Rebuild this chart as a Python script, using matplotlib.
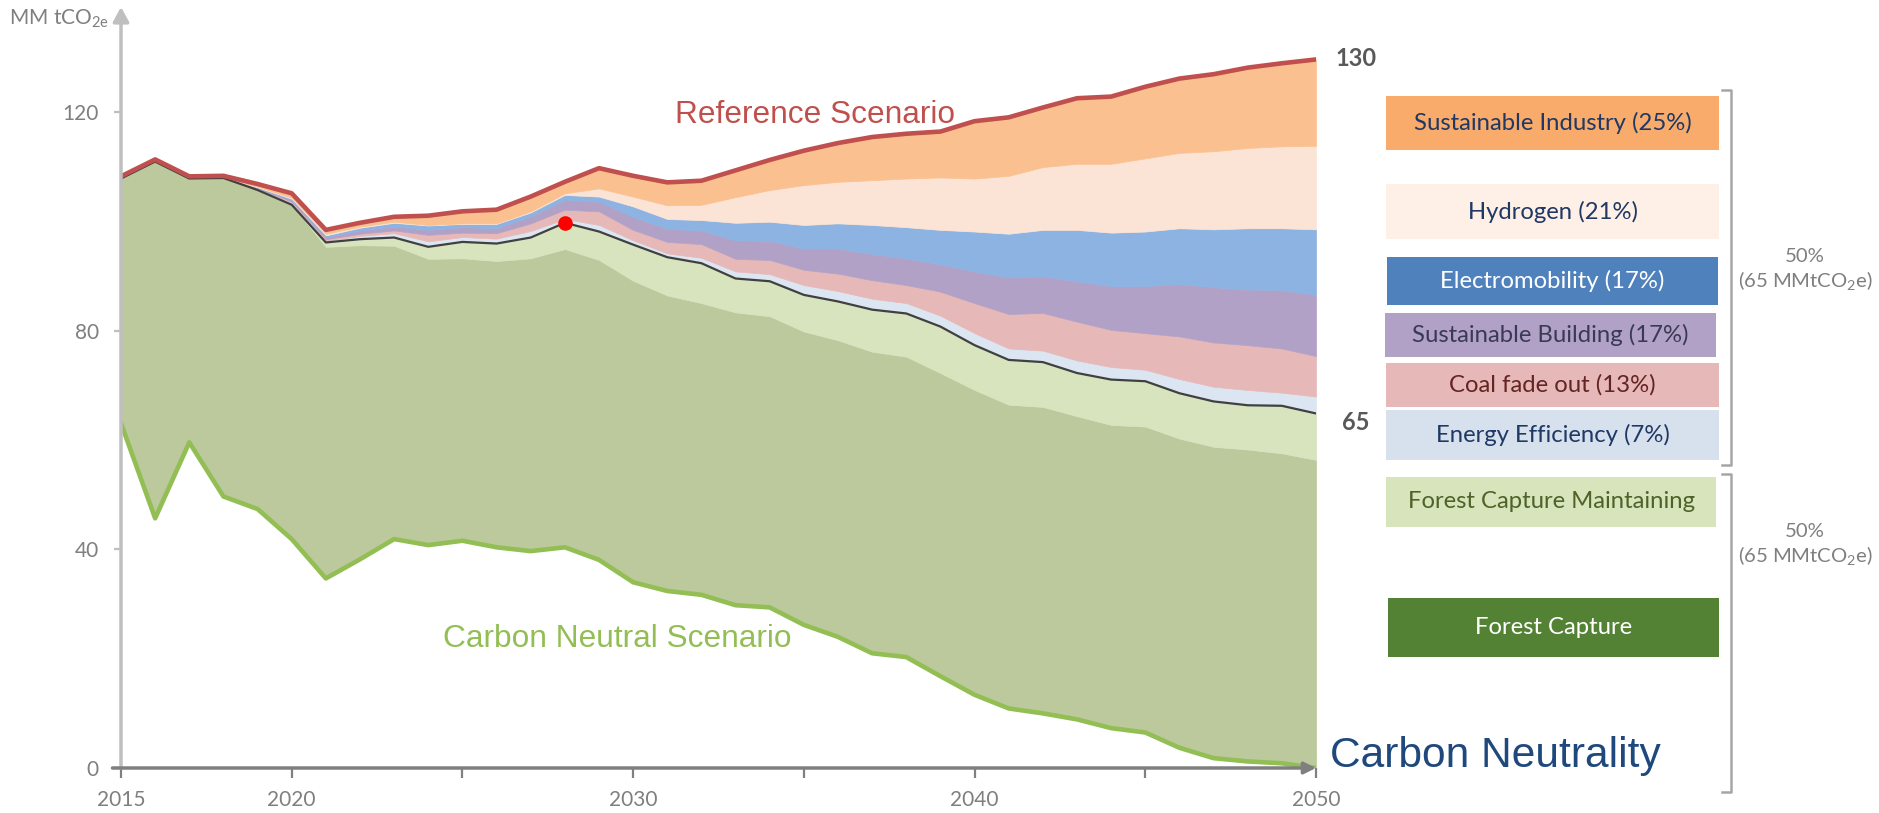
import numpy as np
import matplotlib
matplotlib.use("Agg")
import matplotlib.pyplot as plt
from matplotlib.patches import Rectangle
from matplotlib.lines import Line2D

plt.rcParams['mathtext.fontset'] = 'custom'
plt.rcParams['mathtext.rm'] = 'Lato'
plt.rcParams['mathtext.it'] = 'Lato:italic'
plt.rcParams['mathtext.bf'] = 'Lato:bold'

# ---------------- data (MM tCO2e) ----------------
years = np.arange(2015, 2051)

reference = [108.3, 111.4, 108.3, 108.4, 106.9, 105.2, 98.5, 99.8, 100.9, 101.1,
             101.9, 102.2, 104.6, 107.3, 109.8, 108.4, 107.2, 107.5, 109.4, 111.3,
             113.0, 114.4, 115.5, 116.1, 116.5, 118.4, 119.1, 120.9, 122.6, 122.9,
             124.7, 126.2, 127.0, 128.2, 129.0, 129.7]

# upper boundary of each mitigation wedge (stacked top-down)
top_hydrogen = [108.0, 111.1, 108.0, 108.1, 106.4, 104.4, 97.8, 99.1, 100.0, 99.4,
                99.7, 99.7, 101.9, 105.2, 106.1, 104.6, 103.0, 103.1, 104.5, 105.8,
                106.7, 107.3, 107.6, 107.9, 108.1, 107.9, 108.4, 110.0, 110.6, 110.6,
                111.6, 112.6, 112.9, 113.5, 113.8, 113.9]
top_emob = [108.0, 111.1, 108.0, 108.1, 106.3, 104.2, 97.5, 98.9, 99.8, 99.3,
            99.6, 99.6, 101.7, 104.9, 104.6, 102.8, 100.5, 100.3, 99.8, 100.0,
            99.4, 99.7, 99.4, 99.0, 98.5, 98.2, 97.8, 98.5, 98.5, 98.0,
            98.2, 98.8, 98.6, 98.8, 98.8, 98.6]
top_building = [108.0, 111.1, 108.0, 108.1, 106.2, 104.0, 97.2, 98.4, 99.1, 98.5,
                99.0, 98.8, 101.0, 104.0, 103.7, 100.9, 98.7, 98.4, 96.6, 96.5,
                95.1, 95.1, 94.1, 93.3, 92.2, 90.9, 89.8, 90.0, 89.1, 88.2,
                88.2, 88.6, 88.0, 87.6, 87.5, 86.6]
top_coal = [108.0, 111.1, 108.0, 108.1, 106.1, 103.7, 96.8, 97.8, 98.4, 97.6,
            98.0, 97.9, 99.7, 102.2, 101.9, 98.5, 96.3, 95.9, 93.2, 93.0,
            91.2, 90.5, 89.3, 88.4, 87.2, 85.1, 83.1, 83.3, 81.7, 80.2,
            79.6, 79.0, 77.9, 77.4, 76.8, 75.4]
top_ee = [108.0, 111.1, 108.0, 108.1, 106.0, 103.4, 96.5, 97.4, 97.9, 96.4,
          97.2, 96.9, 98.3, 100.5, 99.4, 96.6, 94.2, 93.4, 90.9, 90.4,
          88.4, 87.3, 85.9, 85.1, 82.8, 79.6, 76.8, 76.4, 74.6, 73.4,
          72.9, 71.2, 69.8, 69.2, 68.7, 68.0]
with_measures = [107.9, 111.0, 107.9, 108.0, 105.8, 103.1, 96.2, 96.8, 97.1, 95.4,
                 96.3, 96.0, 97.1, 99.8, 98.2, 95.8, 93.5, 92.4, 89.6, 89.1,
                 86.6, 85.4, 83.9, 83.2, 80.8, 77.4, 74.7, 74.3, 72.3, 71.1,
                 70.8, 68.6, 67.1, 66.4, 66.3, 64.9]
forest_maint_bottom = [107.9, 111.0, 107.9, 108.0, 105.8, 103.1, 95.4, 95.7, 95.6, 93.2,
                       93.3, 92.8, 93.3, 95.0, 93.0, 89.2, 86.5, 85.1, 83.4, 82.7,
                       79.9, 78.3, 76.2, 75.3, 72.3, 69.2, 66.5, 66.1, 64.4, 62.8,
                       62.5, 60.3, 58.8, 58.3, 57.6, 56.4]
carbon_neutral = [63.1, 45.7, 59.6, 49.7, 47.4, 41.9, 34.7, 38.2, 41.9, 40.8,
                  41.6, 40.4, 39.7, 40.4, 38.1, 34.0, 32.4, 31.7, 29.8, 29.4,
                  26.2, 24.0, 21.0, 20.3, 16.8, 13.4, 10.9, 10.0, 8.9, 7.3,
                  6.5, 3.7, 1.8, 1.2, 0.86, 0.0]
highlight_year = 2028

x_ticks = [2015, 2020, 2025, 2030, 2035, 2040, 2045, 2050]
x_tick_labels = ['2015', '2020', '', '2030', '', '2040', '', '2050']
y_ticks = [0, 40, 80, 120]

legend_labels = ['Sustainable Industry (25%)', 'Hydrogen (21%)', 'Electromobility (17%)',
                 'Sustainable Building (17%)', 'Coal fade out (13%)', 'Energy Efficiency (7%)',
                 'Forest Capture Maintaining', 'Forest Capture']
share_label = '50%\n(65 MMtCO$_{\\mathrm{2}}$e)'

# ---------------- figure ----------------
W, H = 1879, 813
fig = plt.figure(figsize=(W / 100, H / 100), dpi=100)
fig.patch.set_facecolor('white')


def fx(px):
    return px / W


def fy(py):
    return 1 - py / H


ax = fig.add_axes([fx(121), 45 / H, 1195 / W, 761 / H])
ax.set_xlim(2015, 2050)
ax.set_ylim(0, 139.3)
for s in ax.spines.values():
    s.set_visible(False)

layers = [
    (carbon_neutral, forest_maint_bottom, '#BCC99C'),
    (forest_maint_bottom, with_measures, '#D8E4BE'),
    (with_measures, top_ee, '#DCE6F2'),
    (top_ee, top_coal, '#E6B8B7'),
    (top_coal, top_building, '#B2A1C7'),
    (top_building, top_emob, '#8DB3E2'),
    (top_emob, top_hydrogen, '#FBE4D6'),
    (top_hydrogen, reference, '#FAC090'),
]
for lo, hi, c in layers:
    ax.fill_between(years, lo, hi, facecolor=c, edgecolor=c, linewidth=0.5, zorder=1)

ax.plot(years, with_measures, color='#404040', lw=1.6, zorder=3)
ax.plot(years, reference, color='#C0504D', lw=3.3, zorder=4, solid_joinstyle='round')
ax.plot(years, carbon_neutral, color='#92BE54', lw=3.3, zorder=4, solid_joinstyle='round')
hi_idx = list(years).index(highlight_year)
ax.plot([highlight_year], [with_measures[hi_idx]], 'o', color='#FF0000', ms=9.5, zorder=5)

# axes lines with arrows
ax.annotate('', xy=(2015, 139.3), xytext=(2015, 0), xycoords='data',
            arrowprops=dict(arrowstyle='-|>,head_length=0.55,head_width=0.3', mutation_scale=16,
                            color='#BFBFBF', lw=2.5, shrinkA=0, shrinkB=0),
            annotation_clip=False, zorder=6)
ax.annotate('', xy=(2050, 0), xytext=(2014.75, 0), xycoords='data',
            arrowprops=dict(arrowstyle='-|>,head_length=0.5,head_width=0.25', mutation_scale=14,
                            color='#7F7F7F', lw=2.5, shrinkA=0, shrinkB=0),
            annotation_clip=False, zorder=6)

ax.set_xticks(x_ticks)
ax.set_xticklabels(x_tick_labels)
ax.set_yticks(y_ticks)
ax.tick_params(axis='x', length=7, width=1.6, color='#808080', labelsize=15,
               labelcolor='#7F7F7F', pad=9)
ax.tick_params(axis='y', length=5, width=1.6, color='#BFBFBF', labelsize=15,
               labelcolor='#7F7F7F', pad=11)
for lab in ax.get_xticklabels() + ax.get_yticklabels():
    lab.set_family('Lato')

# ---------------- annotations ----------------
fig.text(fx(9), fy(8), 'MM tCO$_{\\mathrm{2e}}$', fontsize=15, color='#7F7F7F',
         family='Lato', ha='left', va='top')
fig.text(fx(675), fy(123), 'Reference Scenario', fontsize=22.8, color='#C0504D',
         family='Liberation Sans', ha='left', va='baseline')
fig.text(fx(443), fy(647), 'Carbon Neutral Scenario', fontsize=22.8, color='#92BE54',
         family='Liberation Sans', ha='left', va='baseline')
fig.text(fx(1330), fy(767), 'Carbon Neutrality', fontsize=30.6, color='#1F497D',
         family='Liberation Sans', ha='left', va='baseline')
fig.text(fx(1356), fy(59), f'{reference[-1]:.0f}', fontsize=17, color='#595959',
         family='Lato', weight='bold', ha='center', va='center')
fig.text(fx(1356), fy(422), f'{with_measures[-1]:.0f}', fontsize=17, color='#595959',
         family='Lato', weight='bold', ha='center', va='center')

# legend boxes (x0, x1, y0, y1 in pixels)
box_geom = [(1386, 1719, 96, 150), (1386, 1719, 184, 239), (1387, 1718, 257, 305),
            (1385, 1716, 313, 357), (1386, 1719, 363, 407), (1386, 1719, 410, 460),
            (1386, 1716, 477, 527), (1388, 1719, 598, 657)]
box_face = ['#F8AB6A', '#FEF0E7', '#4F81BD', '#B2A1C7', '#E6B8B7', '#D7E1EE',
            '#D8E4BC', '#548235']
box_text = ['#1F3864', '#1F3864', '#FFFFFF', '#3A3A55', '#632523', '#1F3864',
            '#4F6228', '#FFFFFF']
for (x0, x1, y0, y1), lab, fc, tc in zip(box_geom, legend_labels, box_face, box_text):
    fig.add_artist(Rectangle((fx(x0), fy(y1)), (x1 - x0) / W, (y1 - y0) / H,
                             transform=fig.transFigure, facecolor=fc, edgecolor='none'))
    fig.text(fx((x0 + x1) / 2), fy((y0 + y1) / 2), lab, fontsize=17.2, color=tc,
             family='Lato', ha='center', va='center')

# brackets
bc = '#A6A6A6'
for ytop, ybot in [(90, 465), (474, 792)]:
    pts_x = [fx(1722), fx(1731), fx(1731), fx(1722)]
    pts_y = [fy(ytop), fy(ytop), fy(ybot), fy(ybot)]
    fig.add_artist(Line2D(pts_x, pts_y, transform=fig.transFigure, color=bc, lw=1.8))

for yc in [270, 545]:
    fig.text(fx(1805), fy(yc), share_label, fontsize=14.6, color='#7F7F7F', family='Lato',
             ha='center', va='center', linespacing=1.25, multialignment='center')

fig.savefig('out.png', dpi=100, facecolor='white')
